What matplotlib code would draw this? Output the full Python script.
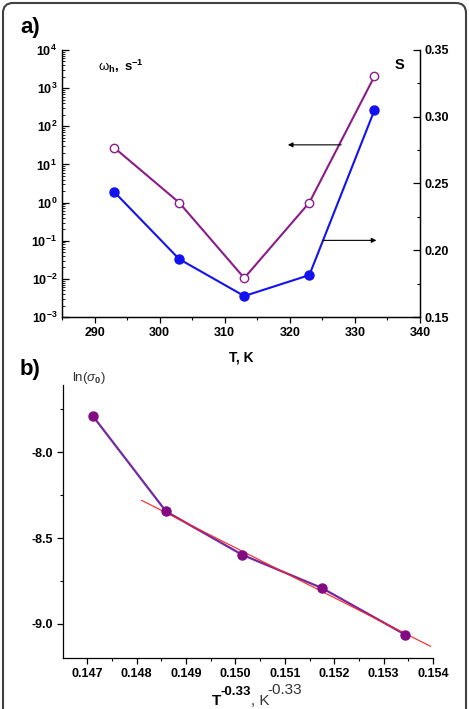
import numpy as np
import matplotlib
matplotlib.use("Agg")
import matplotlib.pyplot as plt
from matplotlib.patches import FancyBboxPatch
from matplotlib.transforms import IdentityTransform
from matplotlib.ticker import LogLocator, FuncFormatter, MultipleLocator, NullFormatter

plt.rcParams['font.family'] = 'Liberation Sans'
plt.rcParams['mathtext.fontset'] = 'custom'
plt.rcParams['mathtext.rm'] = 'Liberation Sans'
plt.rcParams['mathtext.bf'] = 'Liberation Sans:bold'
plt.rcParams['mathtext.it'] = 'Liberation Sans:italic'
plt.rcParams['axes.unicode_minus'] = False

# panel a data
T_a = [293, 303, 313, 323, 333]
omega_h = [27.7, 1.0, 0.0105, 1.0, 2040.0]
S_vals = [0.2438, 0.1934, 0.1657, 0.1814, 0.3049]

# panel b data
x_b = [0.147108, 0.148596, 0.150137, 0.151753, 0.153437]
lnsig = [-7.787, -8.345, -8.597, -8.791, -9.062]
fit_x = [0.1481, 0.15395]

purple = "#8a1c88"
blue = "#1212f0"

W, H = 469, 709
fig = plt.figure(figsize=(W / 100, H / 100), dpi=100)

# rounded frame
fig.patches.append(FancyBboxPatch((3, -30), W - 6, H - 3 + 30,
                                  boxstyle="round,pad=0,rounding_size=10",
                                  transform=IdentityTransform(), fill=False,
                                  edgecolor="#404040", linewidth=1.5))

def box(l, t, r, b):
    return [l / W, 1 - b / H, (r - l) / W, (b - t) / H]

tick_kw = dict(labelsize=9, width=0.9)

# ---------- panel a ----------
ax = fig.add_axes(box(62, 50, 420, 317))
ax2 = ax.twinx()
ax.plot(T_a, omega_h, '-o', color=purple, lw=1.5, ms=6, mfc='white', mec=purple, mew=1.0)
ax2.plot(T_a, S_vals, '-o', color=blue, lw=1.5, ms=6.5, mfc=blue, mec=blue)
ax.set_yscale('log')
ax.set_xlim(285, 340)
ax.set_ylim(1e-3, 1e4)
ax2.set_ylim(0.15, 0.35)
ax.yaxis.set_major_locator(LogLocator(base=10, numticks=10))
ax.yaxis.set_minor_locator(LogLocator(base=10, subs=np.arange(2, 10), numticks=20))
ax.yaxis.set_minor_formatter(NullFormatter())
ax.yaxis.set_major_formatter(FuncFormatter(lambda v, p: r'$\mathbf{10^{%d}}$' % int(round(np.log10(v)))))
ax.xaxis.set_major_locator(MultipleLocator(10))
ax.xaxis.set_minor_locator(MultipleLocator(5))
ax2.yaxis.set_major_locator(MultipleLocator(0.05))
ax2.yaxis.set_minor_locator(MultipleLocator(0.025))
ax2.yaxis.set_major_formatter(FuncFormatter(lambda v, p: '%.2f' % v))
for a in (ax, ax2):
    a.spines['top'].set_visible(False)
    for s in a.spines.values():
        s.set_linewidth(0.9)
ax.tick_params(axis='y', which='major', direction='in', length=5, **tick_kw)
ax.tick_params(axis='y', which='minor', direction='in', length=2.5, width=0.6)
ax.tick_params(axis='x', which='major', direction='out', length=4, **tick_kw)
ax.tick_params(axis='x', which='minor', direction='out', length=2, width=0.8)
ax2.tick_params(axis='y', which='major', direction='in', length=5, **tick_kw)
ax2.tick_params(axis='y', which='minor', direction='in', length=2.5, width=0.8)
for lab in ax.get_xticklabels() + ax2.get_yticklabels():
    lab.set_fontweight('bold')
ax.set_xlabel('T, K', fontweight='bold', fontsize=10, labelpad=8)
ax.text(0.1, 0.97, r'ω$_{\mathbf{h}}\mathbf{,\ s^{-1}}$', transform=ax.transAxes,
        fontsize=9.5, va='top', ha='left')
ax2.text(0.955, 0.97, 'S', transform=ax2.transAxes, fontsize=10.5, fontweight='bold',
         va='top', ha='right')
ax.annotate('', xy=(319.7, 32.6), xytext=(327.9, 32.6),
            arrowprops=dict(arrowstyle='-|>', color='black', lw=0.8, mutation_scale=7,
                            shrinkA=0, shrinkB=0))
ax2.annotate('', xy=(333.3, 0.2074), xytext=(325.1, 0.2074),
             arrowprops=dict(arrowstyle='-|>', color='black', lw=0.8, mutation_scale=7,
                             shrinkA=0, shrinkB=0))
fig.text(20 / W, 1 - 28 / H, 'a)', fontsize=16, fontweight='bold', va='center', ha='left')

# ---------- panel b ----------
bx = fig.add_axes(box(63, 385, 433, 658))
coef = np.polyfit(x_b[1:], lnsig[1:], 1)
bx.plot(fit_x, np.polyval(coef, fit_x), color='#ff2020', lw=0.8, zorder=3)
bx.plot(x_b, lnsig, '-', color='#7428a0', lw=1.6, zorder=2)
bx.plot(x_b, lnsig, 'o', color='#820a82', ms=6.5, zorder=4)
bx.set_xlim(0.14651, 0.154)
bx.set_ylim(-9.198, -7.609)
bx.xaxis.set_major_locator(MultipleLocator(0.001))
bx.xaxis.set_minor_locator(MultipleLocator(0.0005))
bx.yaxis.set_major_locator(MultipleLocator(0.5))
bx.yaxis.set_minor_locator(MultipleLocator(0.25))
bx.xaxis.set_major_formatter(FuncFormatter(lambda v, p: '%.3f' % v))
bx.yaxis.set_major_formatter(FuncFormatter(lambda v, p: '%.1f' % v))
bx.spines['top'].set_visible(False)
bx.spines['right'].set_visible(False)
for s in bx.spines.values():
    s.set_linewidth(0.9)
bx.tick_params(which='major', direction='out', length=4, **tick_kw)
bx.tick_params(which='minor', direction='out', length=2, width=0.8)
for lab in bx.get_xticklabels() + bx.get_yticklabels():
    lab.set_fontweight('bold')
fig.text(72 / W, 1 - 378 / H, r'ln($\sigma_{\mathbf{0}}$)',
         fontsize=9.5, color='#333333', va='center', ha='left')
fig.text(20 / W, 1 - 370 / H, 'b)', fontsize=16, fontweight='bold', va='center', ha='left')

# x label of panel b, pieced together as in the original
fig.text(212 / W, 1 - 705 / H, 'T', fontsize=11, fontweight='bold', va='baseline', ha='left')
fig.text(220 / W, 1 - 695 / H, '-0.33', fontsize=9.5, fontweight='bold', va='baseline', ha='left')
fig.text(251 / W, 1 - 705 / H, ', K', fontsize=11, color='#333333', va='baseline', ha='left')
fig.text(267 / W, 1 - 694 / H, '-0.33', fontsize=11, color='#333333', va='baseline', ha='left')

fig.savefig('out.png', dpi=100)
